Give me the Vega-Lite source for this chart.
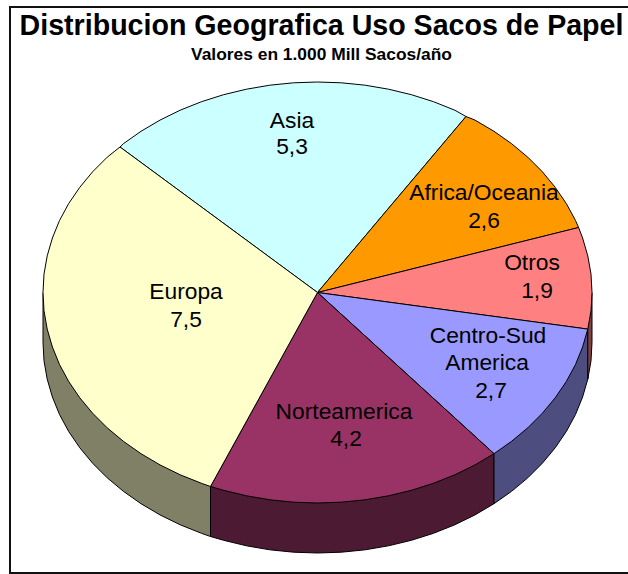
{"$schema":"https://vega.github.io/schema/vega-lite/v6.json","width":628,"height":574,"autosize":"none","padding":0,"background":"white","view":{"stroke":null},
"title":{"text":"Distribucion Geografica Uso Sacos de Papel","subtitle":"Valores en 1.000 Mill Sacos/año","font":"Liberation Sans","fontSize":28.6,"fontWeight":"bold","color":"#000","subtitleFont":"Liberation Sans","subtitleFontSize":17.4,"subtitleFontWeight":"bold","subtitleColor":"#000","subtitlePadding":5,"anchor":"middle","frame":"group","orient":"top","offset":-63,"dx":7.5},
"datasets":{
"sides":[
{"region":"Europa lado","i":0,"x":317.5,"y":292.5},{"region":"Europa lado","i":1,"x":43,"y":292.5},{"region":"Europa lado","i":2,"x":43,"y":342.5},{"region":"Europa lado","i":3,"x":44,"y":360.9},{"region":"Europa lado","i":4,"x":47.2,"y":379.1},{"region":"Europa lado","i":5,"x":52.4,"y":397},{"region":"Europa lado","i":6,"x":59.5,"y":414.5},{"region":"Europa lado","i":7,"x":68.7,"y":431.5},{"region":"Europa lado","i":8,"x":79.8,"y":447.8},{"region":"Europa lado","i":9,"x":92.6,"y":463.2},{"region":"Europa lado","i":10,"x":107.2,"y":477.8},{"region":"Europa lado","i":11,"x":123.4,"y":491.3},{"region":"Europa lado","i":12,"x":141,"y":503.7},{"region":"Europa lado","i":13,"x":160,"y":514.9},{"region":"Europa lado","i":14,"x":180.2,"y":524.8},{"region":"Europa lado","i":15,"x":201.5,"y":533.3},{"region":"Europa lado","i":16,"x":210.5,"y":536.5},{"region":"Europa lado","i":17,"x":210.5,"y":486.5},
{"region":"Norte lado","i":0,"x":317.5,"y":292.5},{"region":"Norte lado","i":1,"x":210.5,"y":486.5},{"region":"Norte lado","i":2,"x":210.5,"y":536.5},{"region":"Norte lado","i":3,"x":223.6,"y":540.3},{"region":"Norte lado","i":4,"x":246.5,"y":545.8},{"region":"Norte lado","i":5,"x":269.8,"y":549.8},{"region":"Norte lado","i":6,"x":293.6,"y":552.2},{"region":"Norte lado","i":7,"x":317.5,"y":553},{"region":"Norte lado","i":8,"x":341.4,"y":552.2},{"region":"Norte lado","i":9,"x":365.2,"y":549.8},{"region":"Norte lado","i":10,"x":388.5,"y":545.8},{"region":"Norte lado","i":11,"x":411.4,"y":540.3},{"region":"Norte lado","i":12,"x":433.5,"y":533.3},{"region":"Norte lado","i":13,"x":454.8,"y":524.8},{"region":"Norte lado","i":14,"x":475,"y":514.9},{"region":"Norte lado","i":15,"x":494,"y":503.7},{"region":"Norte lado","i":16,"x":494,"y":453.7},
{"region":"Centro lado","i":0,"x":317.5,"y":292.5},{"region":"Centro lado","i":1,"x":494,"y":453.7},{"region":"Centro lado","i":2,"x":494,"y":503.7},{"region":"Centro lado","i":3,"x":511.6,"y":491.3},{"region":"Centro lado","i":4,"x":527.8,"y":477.8},{"region":"Centro lado","i":5,"x":542.4,"y":463.2},{"region":"Centro lado","i":6,"x":555.2,"y":447.8},{"region":"Centro lado","i":7,"x":566.3,"y":431.5},{"region":"Centro lado","i":8,"x":575.5,"y":414.5},{"region":"Centro lado","i":9,"x":582.6,"y":397},{"region":"Centro lado","i":10,"x":587.8,"y":379.1},{"region":"Centro lado","i":11,"x":587.8,"y":329.1},
{"region":"Otros lado","i":0,"x":317.5,"y":292.5},{"region":"Otros lado","i":1,"x":587.8,"y":329.1},{"region":"Otros lado","i":2,"x":587.8,"y":379.1},{"region":"Otros lado","i":3,"x":591,"y":360.9},{"region":"Otros lado","i":4,"x":592,"y":342.5},{"region":"Otros lado","i":5,"x":592,"y":292.5}
],
"tops":[
{"region":"Asia","i":0,"x":317.5,"y":292.5},{"region":"Asia","i":1,"x":466,"y":116.5},{"region":"Asia","i":2,"x":454.8,"y":110.2},{"region":"Asia","i":3,"x":433.5,"y":101.7},{"region":"Asia","i":4,"x":411.4,"y":94.7},{"region":"Asia","i":5,"x":388.5,"y":89.2},{"region":"Asia","i":6,"x":365.2,"y":85.2},{"region":"Asia","i":7,"x":341.4,"y":82.8},{"region":"Asia","i":8,"x":317.5,"y":82},{"region":"Asia","i":9,"x":293.6,"y":82.8},{"region":"Asia","i":10,"x":269.8,"y":85.2},{"region":"Asia","i":11,"x":246.5,"y":89.2},{"region":"Asia","i":12,"x":223.6,"y":94.7},{"region":"Asia","i":13,"x":201.5,"y":101.7},{"region":"Asia","i":14,"x":180.2,"y":110.2},{"region":"Asia","i":15,"x":160,"y":120.1},{"region":"Asia","i":16,"x":141,"y":131.3},{"region":"Asia","i":17,"x":123.4,"y":143.7},{"region":"Asia","i":18,"x":120,"y":147},{"region":"Asia","i":19,"x":317.5,"y":292.5},
{"region":"Africa/Oceania","i":0,"x":317.5,"y":292.5},{"region":"Africa/Oceania","i":1,"x":578.6,"y":227.5},{"region":"Africa/Oceania","i":2,"x":575.5,"y":220.5},{"region":"Africa/Oceania","i":3,"x":566.3,"y":203.5},{"region":"Africa/Oceania","i":4,"x":555.2,"y":187.3},{"region":"Africa/Oceania","i":5,"x":542.4,"y":171.8},{"region":"Africa/Oceania","i":6,"x":527.8,"y":157.2},{"region":"Africa/Oceania","i":7,"x":511.6,"y":143.7},{"region":"Africa/Oceania","i":8,"x":494,"y":131.3},{"region":"Africa/Oceania","i":9,"x":475,"y":120.1},{"region":"Africa/Oceania","i":10,"x":466,"y":116.5},{"region":"Africa/Oceania","i":11,"x":317.5,"y":292.5},
{"region":"Otros","i":0,"x":317.5,"y":292.5},{"region":"Otros","i":1,"x":587.8,"y":329.1},{"region":"Otros","i":2,"x":591,"y":310.9},{"region":"Otros","i":3,"x":592,"y":292.5},{"region":"Otros","i":4,"x":591,"y":274.1},{"region":"Otros","i":5,"x":587.8,"y":255.9},{"region":"Otros","i":6,"x":582.6,"y":238},{"region":"Otros","i":7,"x":578.6,"y":227.5},{"region":"Otros","i":8,"x":317.5,"y":292.5},
{"region":"Centro-Sud America","i":0,"x":317.5,"y":292.5},{"region":"Centro-Sud America","i":1,"x":494,"y":453.7},{"region":"Centro-Sud America","i":2,"x":511.6,"y":441.3},{"region":"Centro-Sud America","i":3,"x":527.8,"y":427.8},{"region":"Centro-Sud America","i":4,"x":542.4,"y":413.2},{"region":"Centro-Sud America","i":5,"x":555.2,"y":397.8},{"region":"Centro-Sud America","i":6,"x":566.3,"y":381.5},{"region":"Centro-Sud America","i":7,"x":575.5,"y":364.5},{"region":"Centro-Sud America","i":8,"x":582.6,"y":347},{"region":"Centro-Sud America","i":9,"x":587.8,"y":329.1},{"region":"Centro-Sud America","i":10,"x":317.5,"y":292.5},
{"region":"Norteamerica","i":0,"x":317.5,"y":292.5},{"region":"Norteamerica","i":1,"x":210.5,"y":486.5},{"region":"Norteamerica","i":2,"x":223.6,"y":490.3},{"region":"Norteamerica","i":3,"x":246.5,"y":495.8},{"region":"Norteamerica","i":4,"x":269.8,"y":499.8},{"region":"Norteamerica","i":5,"x":293.6,"y":502.2},{"region":"Norteamerica","i":6,"x":317.5,"y":503},{"region":"Norteamerica","i":7,"x":341.4,"y":502.2},{"region":"Norteamerica","i":8,"x":365.2,"y":499.8},{"region":"Norteamerica","i":9,"x":388.5,"y":495.8},{"region":"Norteamerica","i":10,"x":411.4,"y":490.3},{"region":"Norteamerica","i":11,"x":433.5,"y":483.3},{"region":"Norteamerica","i":12,"x":454.8,"y":474.8},{"region":"Norteamerica","i":13,"x":475,"y":464.9},{"region":"Norteamerica","i":14,"x":494,"y":453.7},{"region":"Norteamerica","i":15,"x":317.5,"y":292.5},
{"region":"Europa","i":0,"x":317.5,"y":292.5},{"region":"Europa","i":1,"x":120,"y":147},{"region":"Europa","i":2,"x":107.2,"y":157.2},{"region":"Europa","i":3,"x":92.6,"y":171.8},{"region":"Europa","i":4,"x":79.8,"y":187.3},{"region":"Europa","i":5,"x":68.7,"y":203.5},{"region":"Europa","i":6,"x":59.5,"y":220.5},{"region":"Europa","i":7,"x":52.4,"y":238},{"region":"Europa","i":8,"x":47.2,"y":255.9},{"region":"Europa","i":9,"x":44,"y":274.1},{"region":"Europa","i":10,"x":43,"y":292.5},{"region":"Europa","i":11,"x":44,"y":310.9},{"region":"Europa","i":12,"x":47.2,"y":329.1},{"region":"Europa","i":13,"x":52.4,"y":347},{"region":"Europa","i":14,"x":59.5,"y":364.5},{"region":"Europa","i":15,"x":68.7,"y":381.5},{"region":"Europa","i":16,"x":79.8,"y":397.8},{"region":"Europa","i":17,"x":92.6,"y":413.2},{"region":"Europa","i":18,"x":107.2,"y":427.8},{"region":"Europa","i":19,"x":123.4,"y":441.3},{"region":"Europa","i":20,"x":141,"y":453.7},{"region":"Europa","i":21,"x":160,"y":464.9},{"region":"Europa","i":22,"x":180.2,"y":474.8},{"region":"Europa","i":23,"x":201.5,"y":483.3},{"region":"Europa","i":24,"x":210.5,"y":486.5},{"region":"Europa","i":25,"x":317.5,"y":292.5}
],
"labels":[
{"t":"Asia","x":292,"y":121},{"t":"5,3","x":292,"y":147},
{"t":"Africa/Oceania","x":484,"y":193},{"t":"2,6","x":484,"y":221},
{"t":"Otros","x":532,"y":263},{"t":"1,9","x":537,"y":291},
{"t":"Centro-Sud","x":488,"y":336},{"t":"America","x":487,"y":363},{"t":"2,7","x":491,"y":391},
{"t":"Europa","x":186,"y":292},{"t":"7,5","x":186,"y":320},
{"t":"Norteamerica","x":344,"y":412},{"t":"4,2","x":346,"y":439}
],
"frame":[{"i":0,"x":628,"y":7},{"i":1,"x":10,"y":7},{"i":2,"x":10,"y":573},{"i":3,"x":628,"y":573}]
},
"encoding":{
"x":{"field":"x","type":"quantitative","scale":{"domain":[0,628],"nice":false,"zero":false},"axis":null},
"y":{"field":"y","type":"quantitative","scale":{"domain":[574,0],"nice":false,"zero":false},"axis":null}
},
"layer":[
{"data":{"name":"frame"},"mark":{"type":"line","stroke":"#111","strokeWidth":2,"clip":false},"encoding":{"order":{"field":"i","type":"ordinal"}}},
{"data":{"name":"sides"},"mark":{"type":"line","stroke":"#000","strokeWidth":1,"filled":true,"strokeJoin":"round"},"encoding":{"order":{"field":"i","type":"quantitative"},"detail":{"field":"region"},"fill":{"field":"region","type":"nominal","legend":null,"scale":{"domain":["Europa lado","Norte lado","Centro lado","Otros lado"],"range":["#808066","#4D1A33","#4D4D80","#804040"]}}}},
{"data":{"name":"tops"},"mark":{"type":"line","stroke":"#000","strokeWidth":1,"filled":true,"strokeJoin":"round"},"encoding":{"order":{"field":"i","type":"quantitative"},"detail":{"field":"region"},"fill":{"field":"region","type":"nominal","legend":null,"scale":{"domain":["Asia","Africa/Oceania","Otros","Centro-Sud America","Norteamerica","Europa"],"range":["#CCFFFF","#FF9900","#FF8080","#9999FF","#993366","#FFFFCC"]}}}},
{"data":{"name":"labels"},"mark":{"type":"text","font":"Liberation Sans","fontSize":22.8,"color":"#000","align":"center","baseline":"middle"},"encoding":{"text":{"field":"t"}}}
],
"resolve":{"scale":{"fill":"independent"}}
}
